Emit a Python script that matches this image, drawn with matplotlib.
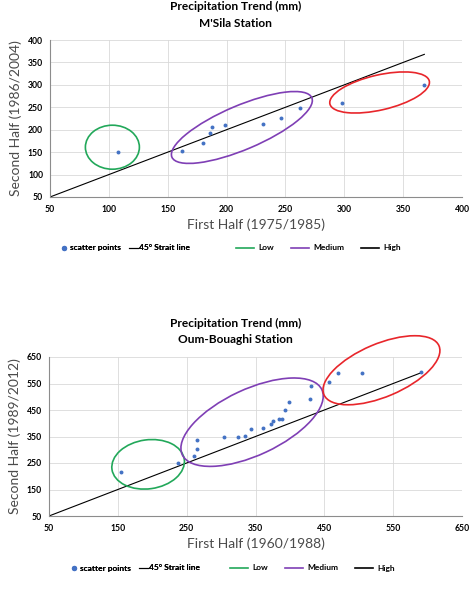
"""Precipitation trend scatter panels (first half vs second half) for two stations."""

import matplotlib
matplotlib.use("Agg")
import matplotlib.pyplot as plt
from matplotlib.lines import Line2D
from matplotlib.patches import Ellipse
from matplotlib.transforms import ScaledTranslation

# --- data -----------------------------------------------------------------
msila_first = [108, 162, 180, 186, 188, 199, 231, 246, 262, 298, 368]
msila_second = [150, 152, 170, 193, 205, 210, 212, 227, 249, 260, 300]
msila_line = [50, 368]

oum_first = [155, 237, 260, 265, 265, 304, 324, 335, 343, 361, 373,
             375, 384, 388, 393, 399, 429, 431, 457, 470, 505, 590]
oum_second = [217, 249, 276, 302, 336, 349, 349, 351, 378, 383, 398,
              407, 416, 417, 450, 481, 491, 542, 554, 590, 591, 593]
oum_line = [50, 590]

ticks_msila = [50, 100, 150, 200, 250, 300, 350, 400]
ticks_oum = [50, 150, 250, 350, 450, 550, 650]

# group rings: centre (data), width/height in inches, angle in degrees
msila_rings = [(103, 161, 0.54, 0.44, 0, "low"),
               (213, 205, 1.52, 0.44, 23, "medium"),
               (330, 283, 1.02, 0.35, 13, "high")]
oum_rings = [(194, 245, 0.73, 0.49, 8, "low"),
             (345, 404, 1.54, 0.66, 25, "medium"),
             (533, 600, 1.25, 0.53, 23, "high")]

BLUE = "#4472C4"
GREEN = "#22A85A"
PURPLE = "#7F3FB5"
RED = "#E8262B"
GRID = "#D9D9D9"
LABEL = "#4A4A4A"
RING = {"low": GREEN, "medium": PURPLE, "high": RED}

plt.rcParams["font.family"] = ["Lato", "DejaVu Sans"]

fig = plt.figure(figsize=(4.71, 5.98), dpi=100)


def panel(rect, first, second, line, ticks, rings, xlabel, ylabel, title_y, station, legend_y):
    ax = fig.add_axes(rect)
    ax.set_xlim(ticks[0], ticks[-1])
    ax.set_ylim(ticks[0], ticks[-1])
    ax.set_xticks(ticks)
    ax.set_yticks(ticks)
    ax.grid(True, color=GRID, linewidth=0.6)
    ax.set_axisbelow(True)
    for side in ("top", "right"):
        ax.spines[side].set_visible(False)
    for side in ("left", "bottom"):
        ax.spines[side].set_color("#8C8C8C")
        ax.spines[side].set_linewidth(0.8)
    ax.tick_params(axis="both", length=0, labelsize=6.2, pad=5)
    ax.tick_params(axis="x", pad=6)
    for lab in ax.get_xticklabels() + ax.get_yticklabels():
        lab.set_fontweight("bold")

    ax.plot(line, line, color="black", linewidth=0.8)
    ax.scatter(first, second, s=8, color=BLUE, zorder=3, linewidths=0)

    for cx, cy, w, h, ang, grp in rings:
        tr = fig.dpi_scale_trans + ScaledTranslation(cx, cy, ax.transData)
        ax.add_patch(Ellipse((0, 0), w, h, angle=ang, transform=tr, fill=False,
                             edgecolor=RING[grp], linewidth=1.2, clip_on=False, zorder=4))

    ax.set_xlabel(xlabel, fontsize=10, color=LABEL, labelpad=3)
    ax.set_ylabel(ylabel, fontsize=10, color=LABEL, labelpad=4)

    fig.text(0.5, title_y, "Precipitation Trend (mm)", ha="center", va="center",
             fontsize=8.6, fontweight="bold")
    fig.text(0.5, title_y - 16.5 / 598, station, ha="center", va="center",
             fontsize=8.6, fontweight="bold")

    h1 = [Line2D([], [], marker="o", markersize=2.8, color=BLUE, linestyle="none"),
          Line2D([], [], color="black", linewidth=0.8)]
    leg1 = fig.legend(h1, ["scatter points", "45° Strait line"], loc="center left",
                      bbox_to_anchor=(legend_y[0], legend_y[2]), ncol=2, frameon=False,
                      handlelength=1.0, handletextpad=0.2, columnspacing=1.0,
                      prop={"size": 6.0, "weight": "bold"}, borderaxespad=0, borderpad=0)
    h2 = [Line2D([], [], color=GREEN, linewidth=1.2),
          Line2D([], [], color=PURPLE, linewidth=1.2),
          Line2D([], [], color="black", linewidth=1.2)]
    fig.legend(h2, ["Low", "Medium", "High"], loc="center left",
               bbox_to_anchor=(legend_y[1], legend_y[2]), ncol=3, frameon=False,
               handlelength=2.2, handletextpad=0.5, columnspacing=2.0,
               prop={"size": 6.0, "weight": "bold"}, borderaxespad=0, borderpad=0)
    fig.add_artist(leg1)
    return ax


panel([50 / 471, 1 - 197 / 598, 412 / 471, 157 / 598], msila_first, msila_second,
      msila_line, ticks_msila, msila_rings, "First Half (1975/1985)",
      "Second Half (1986/2004)", 1 - 6.7 / 598, "M'Sila Station",
      (60 / 471, 236 / 471, 1 - 248 / 598))

panel([49 / 471, 1 - 516 / 598, 413 / 471, 159 / 598], oum_first, oum_second,
      oum_line, ticks_oum, oum_rings, "First Half (1960/1988)",
      "Second Half (1989/2012)", 1 - 323 / 598, "Oum-Bouaghi Station",
      (70 / 471, 230 / 471, 1 - 568 / 598))

fig.savefig("out.png", dpi=100)
